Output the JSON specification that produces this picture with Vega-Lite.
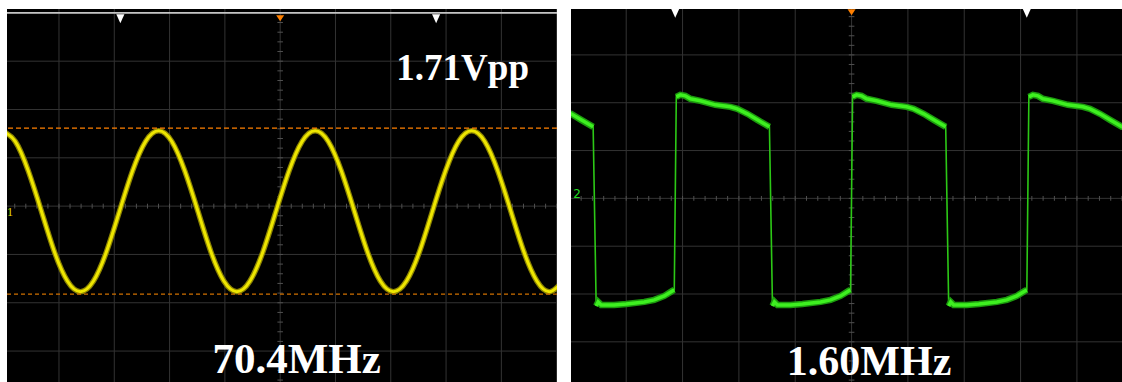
{
  "$schema": "https://vega.github.io/schema/vega-lite/v6.json",
  "background": "white",
  "padding": {"left": 7, "top": 9, "right": 0, "bottom": 0},
  "spacing": 14,
  "bounds": "flush",
  "config": {"view": {"fill": "#000000", "stroke": null}, "axis": {"disable": true}},
  "datasets": {
    "ints": [{"g":-5},{"g":-4},{"g":-3},{"g":-2},{"g":-1},{"g":0},{"g":1},{"g":2},{"g":3},{"g":4},{"g":5}],
    "minor": [{"m":-5},{"m":-4.8},{"m":-4.6},{"m":-4.4},{"m":-4.2},{"m":-4},{"m":-3.8},{"m":-3.6},{"m":-3.4},{"m":-3.2},{"m":-3},{"m":-2.8},{"m":-2.6},{"m":-2.4},{"m":-2.2},{"m":-2},{"m":-1.8},{"m":-1.6},{"m":-1.4},{"m":-1.2},{"m":-1},{"m":-0.8},{"m":-0.6},{"m":-0.4},{"m":-0.2},{"m":0},{"m":0.2},{"m":0.4},{"m":0.6},{"m":0.8},{"m":1},{"m":1.2},{"m":1.4},{"m":1.6},{"m":1.8},{"m":2},{"m":2.2},{"m":2.4},{"m":2.6},{"m":2.8},{"m":3},{"m":3.2},{"m":3.4},{"m":3.6},{"m":3.8},{"m":4},{"m":4.2},{"m":4.4},{"m":4.6},{"m":4.8},{"m":5}],
    "sine": [
      {"t":-5.027,"v":1.56},{"t":-4.791,"v":1.34},{"t":-4.555,"v":0.73},{"t":-4.319,"v":-0.10},{"t":-4.084,"v":-0.94},{"t":-3.848,"v":-1.55},
      {"t":-3.612,"v":-1.77},{"t":-3.376,"v":-1.55},{"t":-3.140,"v":-0.94},{"t":-2.904,"v":-0.10},{"t":-2.669,"v":0.73},{"t":-2.433,"v":1.34},
      {"t":-2.197,"v":1.56},{"t":-1.961,"v":1.34},{"t":-1.725,"v":0.73},{"t":-1.489,"v":-0.10},{"t":-1.254,"v":-0.94},{"t":-1.018,"v":-1.55},
      {"t":-0.782,"v":-1.77},{"t":-0.546,"v":-1.55},{"t":-0.310,"v":-0.94},{"t":-0.074,"v":-0.10},{"t":0.161,"v":0.73},{"t":0.397,"v":1.34},
      {"t":0.633,"v":1.56},{"t":0.869,"v":1.34},{"t":1.105,"v":0.73},{"t":1.340,"v":-0.10},{"t":1.576,"v":-0.94},{"t":1.812,"v":-1.55},
      {"t":2.048,"v":-1.77},{"t":2.284,"v":-1.55},{"t":2.520,"v":-0.94},{"t":2.755,"v":-0.10},{"t":2.991,"v":0.73},{"t":3.227,"v":1.34},
      {"t":3.463,"v":1.56},{"t":3.699,"v":1.34},{"t":3.935,"v":0.73},{"t":4.170,"v":-0.10},{"t":4.406,"v":-0.94},{"t":4.642,"v":-1.55},
      {"t":4.878,"v":-1.77},{"t":5.114,"v":-1.55}
    ],
    "square": [
      {"t":-5.013,"v":1.778,"seg":"h0"},{"t":-4.978,"v":1.768,"seg":"h0"},{"t":-4.800,"v":1.642,"seg":"h0"},{"t":-4.587,"v":1.496,"seg":"h0"},
      {"t":-4.533,"v":-2.249,"seg":"l1"},{"t":-4.498,"v":-2.165,"seg":"l1"},{"t":-4.444,"v":-2.228,"seg":"l1"},{"t":-4.213,"v":-2.228,"seg":"l1"},{"t":-4.000,"v":-2.207,"seg":"l1"},{"t":-3.680,"v":-2.165,"seg":"l1"},{"t":-3.502,"v":-2.123,"seg":"l1"},{"t":-3.324,"v":-2.040,"seg":"l1"},{"t":-3.182,"v":-1.935,"seg":"l1"},{"t":-3.147,"v":-1.914,"seg":"l1"},
      {"t":-3.111,"v":2.123,"seg":"h1"},{"t":-3.040,"v":2.165,"seg":"h1"},{"t":-2.951,"v":2.144,"seg":"h1"},{"t":-2.862,"v":2.082,"seg":"h1"},{"t":-2.684,"v":2.040,"seg":"h1"},{"t":-2.418,"v":1.956,"seg":"h1"},{"t":-2.151,"v":1.914,"seg":"h1"},{"t":-2.027,"v":1.872,"seg":"h1"},{"t":-1.849,"v":1.768,"seg":"h1"},{"t":-1.671,"v":1.642,"seg":"h1"},{"t":-1.458,"v":1.496,"seg":"h1"},
      {"t":-1.404,"v":-2.249,"seg":"l2"},{"t":-1.369,"v":-2.165,"seg":"l2"},{"t":-1.316,"v":-2.228,"seg":"l2"},{"t":-1.084,"v":-2.228,"seg":"l2"},{"t":-0.871,"v":-2.207,"seg":"l2"},{"t":-0.551,"v":-2.165,"seg":"l2"},{"t":-0.373,"v":-2.123,"seg":"l2"},{"t":-0.196,"v":-2.040,"seg":"l2"},{"t":-0.053,"v":-1.935,"seg":"l2"},{"t":-0.018,"v":-1.914,"seg":"l2"},
      {"t":0.018,"v":2.123,"seg":"h2"},{"t":0.089,"v":2.165,"seg":"h2"},{"t":0.178,"v":2.144,"seg":"h2"},{"t":0.267,"v":2.082,"seg":"h2"},{"t":0.444,"v":2.040,"seg":"h2"},{"t":0.711,"v":1.956,"seg":"h2"},{"t":0.978,"v":1.914,"seg":"h2"},{"t":1.102,"v":1.872,"seg":"h2"},{"t":1.280,"v":1.768,"seg":"h2"},{"t":1.458,"v":1.642,"seg":"h2"},{"t":1.671,"v":1.496,"seg":"h2"},
      {"t":1.724,"v":-2.249,"seg":"l3"},{"t":1.760,"v":-2.165,"seg":"l3"},{"t":1.813,"v":-2.228,"seg":"l3"},{"t":2.044,"v":-2.228,"seg":"l3"},{"t":2.258,"v":-2.207,"seg":"l3"},{"t":2.578,"v":-2.165,"seg":"l3"},{"t":2.756,"v":-2.123,"seg":"l3"},{"t":2.933,"v":-2.040,"seg":"l3"},{"t":3.076,"v":-1.935,"seg":"l3"},{"t":3.111,"v":-1.914,"seg":"l3"},
      {"t":3.147,"v":2.123,"seg":"h3"},{"t":3.218,"v":2.165,"seg":"h3"},{"t":3.307,"v":2.144,"seg":"h3"},{"t":3.396,"v":2.082,"seg":"h3"},{"t":3.573,"v":2.040,"seg":"h3"},{"t":3.840,"v":1.956,"seg":"h3"},{"t":4.107,"v":1.914,"seg":"h3"},{"t":4.231,"v":1.872,"seg":"h3"},{"t":4.409,"v":1.768,"seg":"h3"},{"t":4.587,"v":1.642,"seg":"h3"},{"t":4.800,"v":1.496,"seg":"h3"},{"t":4.836,"v":1.490,"seg":"h3"}
    ],
    "cursorsL": [{"t":-2.89},{"t":2.82}],
    "cursorsR": [{"t":-3.13},{"t":3.11}],
    "one": [{}]
  },
  "hconcat": [
    {
      "width": 550,
      "height": 373,
      "layer": [
        {"data": {"name": "ints"}, "mark": {"type": "rule", "color": "#333333", "strokeWidth": 1, "clip": true},
         "encoding": {"x": {"field": "g", "type": "quantitative", "scale": {"domain": [-4.94, 5.006], "nice": false, "zero": false}, "axis": null}}},
        {"data": {"name": "ints"}, "mark": {"type": "rule", "color": "#333333", "strokeWidth": 1, "clip": true},
         "encoding": {"y": {"field": "g", "type": "quantitative", "scale": {"domain": [-3.64, 4.08], "nice": false, "zero": false}, "axis": null}}},
        {"data": {"name": "minor"}, "mark": {"type": "rule", "color": "#505050", "strokeWidth": 1, "clip": true},
         "encoding": {"x": {"field": "m", "type": "quantitative", "scale": {"domain": [-4.94, 5.006], "nice": false, "zero": false}, "axis": null},
                      "y": {"datum": -0.05, "type": "quantitative", "scale": {"domain": [-3.64, 4.08], "nice": false, "zero": false}, "axis": null},
                      "y2": {"datum": 0.05}}},
        {"data": {"name": "minor"}, "mark": {"type": "rule", "color": "#505050", "strokeWidth": 1, "clip": true},
         "encoding": {"y": {"field": "m", "type": "quantitative", "scale": {"domain": [-3.64, 4.08], "nice": false, "zero": false}, "axis": null},
                      "x": {"datum": -0.05, "type": "quantitative", "scale": {"domain": [-4.94, 5.006], "nice": false, "zero": false}, "axis": null},
                      "x2": {"datum": 0.05}}},
        {"data": {"name": "one"}, "mark": {"type": "rule", "color": "#c4c4c4", "strokeWidth": 1.6, "clip": true},
         "encoding": {"y": {"datum": 4, "type": "quantitative", "scale": {"domain": [-3.64, 4.08], "nice": false, "zero": false}, "axis": null}}},
        {"data": {"name": "sine"}, "mark": {"type": "line", "color": "#8c8400", "strokeWidth": 5.5, "interpolate": "natural", "clip": true},
         "encoding": {"x": {"field": "t", "type": "quantitative", "scale": {"domain": [-4.94, 5.006], "nice": false, "zero": false}, "axis": null},
                      "y": {"field": "v", "type": "quantitative", "scale": {"domain": [-3.64, 4.08], "nice": false, "zero": false}, "axis": null}}},
        {"data": {"name": "sine"}, "mark": {"type": "line", "color": "#eee600", "strokeWidth": 3, "interpolate": "natural", "clip": true},
         "encoding": {"x": {"field": "t", "type": "quantitative", "scale": {"domain": [-4.94, 5.006], "nice": false, "zero": false}, "axis": null},
                      "y": {"field": "v", "type": "quantitative", "scale": {"domain": [-3.64, 4.08], "nice": false, "zero": false}, "axis": null}}},
        {"data": {"name": "one"}, "mark": {"type": "rule", "color": "#ff8000", "strokeWidth": 1.3, "strokeDash": [5, 3], "clip": true},
         "encoding": {"y": {"datum": 1.615, "type": "quantitative", "scale": {"domain": [-3.64, 4.08], "nice": false, "zero": false}, "axis": null}}},
        {"data": {"name": "one"}, "mark": {"type": "rule", "color": "#d07000", "strokeWidth": 1.2, "strokeDash": [4, 3], "clip": true},
         "encoding": {"y": {"datum": -1.822, "type": "quantitative", "scale": {"domain": [-3.64, 4.08], "nice": false, "zero": false}, "axis": null}}},
        {"data": {"name": "cursorsL"}, "mark": {"type": "point", "shape": "M-0.9,-1L0.9,-1L0,1Z", "filled": true, "color": "#ffffff", "opacity": 1, "size": 81, "strokeWidth": 0, "clip": true},
         "encoding": {"x": {"field": "t", "type": "quantitative", "scale": {"domain": [-4.94, 5.006], "nice": false, "zero": false}, "axis": null},
                      "y": {"datum": 3.88, "type": "quantitative", "scale": {"domain": [-3.64, 4.08], "nice": false, "zero": false}, "axis": null}}},
        {"data": {"name": "one"}, "mark": {"type": "point", "shape": "M-1,-0.75L1,-0.75L0,0.75Z", "filled": true, "color": "#ff8000", "opacity": 1, "size": 64, "strokeWidth": 0, "clip": true},
         "encoding": {"x": {"datum": 0, "type": "quantitative", "scale": {"domain": [-4.94, 5.006], "nice": false, "zero": false}, "axis": null},
                      "y": {"datum": 3.89, "type": "quantitative", "scale": {"domain": [-3.64, 4.08], "nice": false, "zero": false}, "axis": null}}},
        {"data": {"name": "one"}, "mark": {"type": "text", "text": "1", "font": "Liberation Serif", "fontSize": 12, "color": "#e6e000", "align": "left", "baseline": "middle", "clip": true},
         "encoding": {"x": {"datum": -4.94, "type": "quantitative", "scale": {"domain": [-4.94, 5.006], "nice": false, "zero": false}, "axis": null},
                      "y": {"datum": -0.12, "type": "quantitative", "scale": {"domain": [-3.64, 4.08], "nice": false, "zero": false}, "axis": null}}},
        {"data": {"name": "one"}, "mark": {"type": "text", "text": "1.71Vpp", "font": "Liberation Serif", "fontWeight": "bold", "fontSize": 37, "color": "#ffffff", "align": "center", "baseline": "alphabetic", "clip": true},
         "encoding": {"x": {"datum": 3.30, "type": "quantitative", "scale": {"domain": [-4.94, 5.006], "nice": false, "zero": false}, "axis": null},
                      "y": {"datum": 2.609, "type": "quantitative", "scale": {"domain": [-3.64, 4.08], "nice": false, "zero": false}, "axis": null}}},
        {"data": {"name": "one"}, "mark": {"type": "text", "text": "70.4MHz", "font": "Liberation Serif", "fontWeight": "bold", "fontSize": 43, "color": "#ffffff", "align": "center", "baseline": "alphabetic", "clip": true},
         "encoding": {"x": {"datum": 0.298, "type": "quantitative", "scale": {"domain": [-4.94, 5.006], "nice": false, "zero": false}, "axis": null},
                      "y": {"datum": -3.457, "type": "quantitative", "scale": {"domain": [-3.64, 4.08], "nice": false, "zero": false}, "axis": null}}}
      ]
    },
    {
      "width": 551,
      "height": 373,
      "layer": [
        {"data": {"name": "ints"}, "mark": {"type": "rule", "color": "#333333", "strokeWidth": 1, "clip": true},
         "encoding": {"x": {"field": "g", "type": "quantitative", "scale": {"domain": [-4.98, 4.80], "nice": false, "zero": false}, "axis": null}}},
        {"data": {"name": "ints"}, "mark": {"type": "rule", "color": "#333333", "strokeWidth": 1, "clip": true},
         "encoding": {"y": {"field": "g", "type": "quantitative", "scale": {"domain": [-3.84, 3.96], "nice": false, "zero": false}, "axis": null}}},
        {"data": {"name": "minor"}, "mark": {"type": "rule", "color": "#505050", "strokeWidth": 1, "clip": true},
         "encoding": {"x": {"field": "m", "type": "quantitative", "scale": {"domain": [-4.98, 4.80], "nice": false, "zero": false}, "axis": null},
                      "y": {"datum": -0.05, "type": "quantitative", "scale": {"domain": [-3.84, 3.96], "nice": false, "zero": false}, "axis": null},
                      "y2": {"datum": 0.05}}},
        {"data": {"name": "minor"}, "mark": {"type": "rule", "color": "#505050", "strokeWidth": 1, "clip": true},
         "encoding": {"y": {"field": "m", "type": "quantitative", "scale": {"domain": [-3.84, 3.96], "nice": false, "zero": false}, "axis": null},
                      "x": {"datum": -0.05, "type": "quantitative", "scale": {"domain": [-4.98, 4.80], "nice": false, "zero": false}, "axis": null},
                      "x2": {"datum": 0.05}}},
        {"data": {"name": "square"}, "mark": {"type": "line", "color": "#2cc816", "strokeWidth": 1.6, "clip": true},
         "encoding": {"x": {"field": "t", "type": "quantitative", "scale": {"domain": [-4.98, 4.80], "nice": false, "zero": false}, "axis": null},
                      "y": {"field": "v", "type": "quantitative", "scale": {"domain": [-3.84, 3.96], "nice": false, "zero": false}, "axis": null}}},
        {"data": {"name": "square"}, "mark": {"type": "line", "color": "#1c9a0e", "strokeWidth": 6.5, "clip": true},
         "encoding": {"x": {"field": "t", "type": "quantitative", "scale": {"domain": [-4.98, 4.80], "nice": false, "zero": false}, "axis": null},
                      "y": {"field": "v", "type": "quantitative", "scale": {"domain": [-3.84, 3.96], "nice": false, "zero": false}, "axis": null},
                      "detail": {"field": "seg", "type": "nominal"}}},
        {"data": {"name": "square"}, "mark": {"type": "line", "color": "#3ef020", "strokeWidth": 3.5, "clip": true},
         "encoding": {"x": {"field": "t", "type": "quantitative", "scale": {"domain": [-4.98, 4.80], "nice": false, "zero": false}, "axis": null},
                      "y": {"field": "v", "type": "quantitative", "scale": {"domain": [-3.84, 3.96], "nice": false, "zero": false}, "axis": null},
                      "detail": {"field": "seg", "type": "nominal"}}},
        {"data": {"name": "cursorsR"}, "mark": {"type": "point", "shape": "M-0.9,-1L0.9,-1L0,1Z", "filled": true, "color": "#ffffff", "opacity": 1, "size": 81, "strokeWidth": 0, "clip": true},
         "encoding": {"x": {"field": "t", "type": "quantitative", "scale": {"domain": [-4.98, 4.80], "nice": false, "zero": false}, "axis": null},
                      "y": {"datum": 3.87, "type": "quantitative", "scale": {"domain": [-3.84, 3.96], "nice": false, "zero": false}, "axis": null}}},
        {"data": {"name": "one"}, "mark": {"type": "point", "shape": "M-1,-0.75L1,-0.75L0,0.75Z", "filled": true, "color": "#ff8000", "opacity": 1, "size": 64, "strokeWidth": 0, "clip": true},
         "encoding": {"x": {"datum": 0, "type": "quantitative", "scale": {"domain": [-4.98, 4.80], "nice": false, "zero": false}, "axis": null},
                      "y": {"datum": 3.89, "type": "quantitative", "scale": {"domain": [-3.84, 3.96], "nice": false, "zero": false}, "axis": null}}},
        {"data": {"name": "one"}, "mark": {"type": "text", "text": "2", "font": "DejaVu Sans", "fontSize": 12, "color": "#22dd22", "align": "left", "baseline": "middle", "clip": true},
         "encoding": {"x": {"datum": -4.94, "type": "quantitative", "scale": {"domain": [-4.98, 4.80], "nice": false, "zero": false}, "axis": null},
                      "y": {"datum": 0.10, "type": "quantitative", "scale": {"domain": [-3.84, 3.96], "nice": false, "zero": false}, "axis": null}}},
        {"data": {"name": "one"}, "mark": {"type": "text", "text": "1.60MHz", "font": "Liberation Serif", "fontWeight": "bold", "fontSize": 42, "color": "#ffffff", "align": "center", "baseline": "alphabetic", "clip": true},
         "encoding": {"x": {"datum": 0.311, "type": "quantitative", "scale": {"domain": [-4.98, 4.80], "nice": false, "zero": false}, "axis": null},
                      "y": {"datum": -3.692, "type": "quantitative", "scale": {"domain": [-3.84, 3.96], "nice": false, "zero": false}, "axis": null}}}
      ]
    }
  ]
}
